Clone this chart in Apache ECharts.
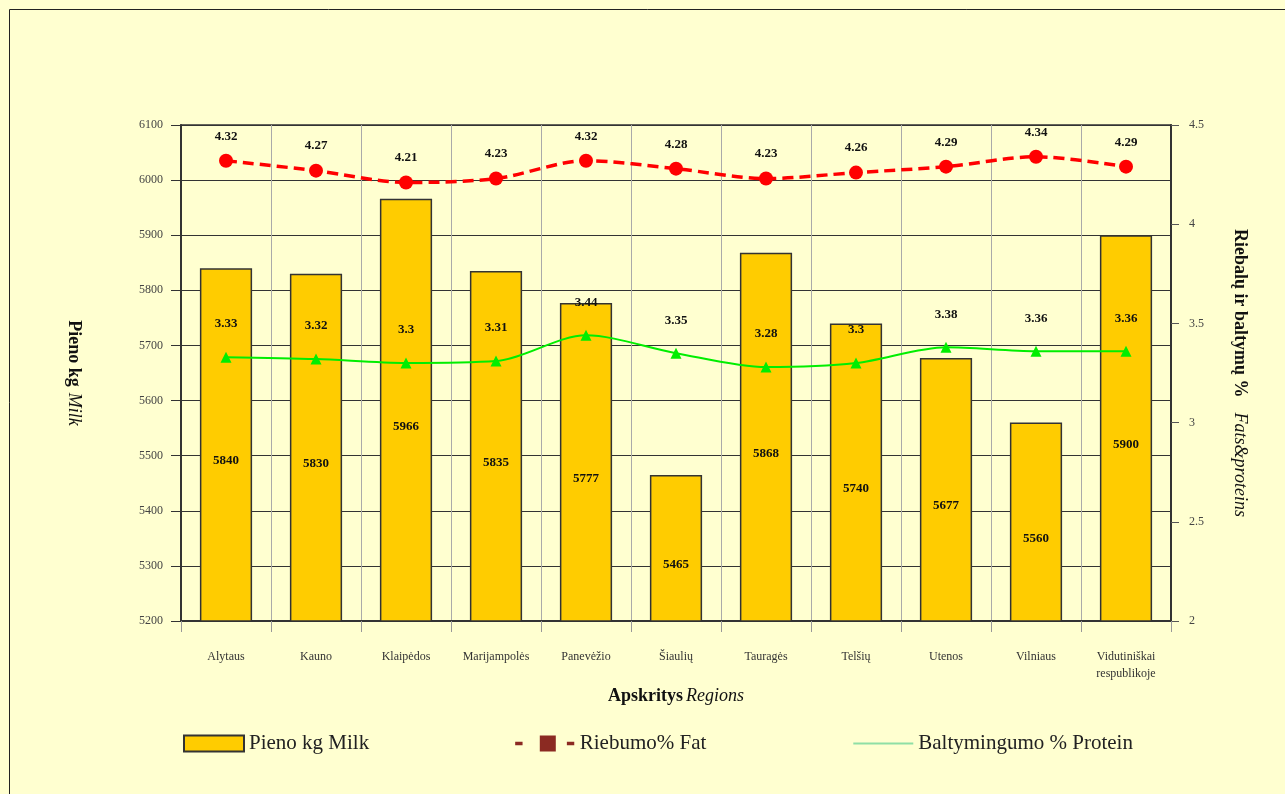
<!DOCTYPE html>
<html>
<head>
<meta charset="utf-8">
<script src="https://cdn.jsdelivr.net/npm/echarts@6/dist/echarts.min.js"></script>
<style>
html,body{margin:0;padding:0;background:#FFFFD0;}
#c{width:1285px;height:794px;}
</style>
</head>
<body>
<div id="c"></div>
<script>
const categories = ['Alytaus','Kauno','Klaipėdos','Marijampolės','Panevėžio','Šiaulių','Tauragės','Telšių','Utenos','Vilniaus','Vidutiniškai\nrespublikoje'];
const milk = [5840, 5830, 5966, 5835, 5777, 5465, 5868, 5740, 5677, 5560, 5900];
const fat = [4.32, 4.27, 4.21, 4.23, 4.32, 4.28, 4.23, 4.26, 4.29, 4.34, 4.29];
const protein = [3.33, 3.32, 3.3, 3.31, 3.44, 3.35, 3.28, 3.3, 3.38, 3.36, 3.36];
const leftTicks = {min: 5200, max: 6100, interval: 100};
const rightTicks = {min: 2, max: 4.5, interval: 0.5};

const FONT = '"Liberation Serif", "DejaVu Serif", serif';
const chart = echarts.init(document.getElementById('c'), null, {renderer: 'canvas'});
chart.setOption({
  backgroundColor: '#FFFFD0',
  textStyle: {fontFamily: FONT},
  animation: false,
  graphic: [{
    type: 'rect', shape: {x: 9.5, y: 9.5, width: 1300, height: 820},
    style: {fill: 'none', stroke: '#222', lineWidth: 1}, z: 100
  }],
  grid: {left: 181, right: 114, top: 125, bottom: 173, show: true, borderColor: '#333', borderWidth: 1.5, backgroundColor: 'transparent'},
  legend: {
    left: 178, top: 728, itemWidth: 60, itemHeight: 16, itemGap: 146,
    textStyle: {fontFamily: FONT, fontSize: 21, color: '#222'},
    data: [
      {name: 'Pieno kg Milk', icon: 'rect'},
      {name: 'Riebumo% Fat', icon: 'path://M0,7h6v3h-6z M20,2h13v13h-13z M42,7h6v3h-6z', itemStyle: {color: '#8B2A22'}},
      {name: 'Baltymingumo % Protein', itemStyle: {color: 'rgba(0,0,0,0)', borderWidth: 0}, lineStyle: {color: '#8FDFA5', width: 2, type: 'solid'}}
    ]
  },
  xAxis: {
    type: 'category', data: categories, boundaryGap: true,
    name: '{b|Apskritys} {i|Regions}', nameLocation: 'middle', nameGap: 64,
    nameTextStyle: {rich: {
      b: {fontFamily: FONT, fontSize: 18, fontWeight: 'bold', color: '#111'},
      i: {fontFamily: FONT, fontSize: 18, fontStyle: 'italic', color: '#111'}
    }},
    axisLine: {show: true, lineStyle: {color: '#333', width: 2}},
    axisTick: {show: true, length: 11, inside: false, lineStyle: {color: '#999'}},
    axisLabel: {fontFamily: FONT, fontSize: 12, color: '#333', margin: 27, lineHeight: 17, interval: 0},
    splitLine: {show: true, lineStyle: {color: '#aaa', width: 1}}
  },
  yAxis: [{
    type: 'value', min: leftTicks.min, max: leftTicks.max, interval: leftTicks.interval,
    position: 'left',
    name: '{b|Pieno kg}  {i|Milk}', nameLocation: 'middle', nameGap: 98, nameRotate: -90,
    nameTextStyle: {rich: {
      b: {fontFamily: FONT, fontSize: 18, fontWeight: 'bold', color: '#111'},
      i: {fontFamily: FONT, fontSize: 18, fontStyle: 'italic', color: '#111'}
    }},
    axisLine: {show: true, lineStyle: {color: '#333', width: 2}},
    axisTick: {show: true, length: 10, lineStyle: {color: '#333'}},
    axisLabel: {fontFamily: FONT, fontSize: 12, color: '#444', margin: 18, formatter: v => String(v)},
    splitLine: {show: true, lineStyle: {color: '#333', width: 1}}
  }, {
    type: 'value', min: rightTicks.min, max: rightTicks.max, interval: rightTicks.interval,
    position: 'right',
    name: '{b|Riebalų ir baltymų %}     {i|Fats&proteins}', nameLocation: 'middle', nameGap: 60, nameRotate: -90,
    nameTextStyle: {rich: {
      b: {fontFamily: FONT, fontSize: 18, fontWeight: 'bold', color: '#111'},
      i: {fontFamily: FONT, fontSize: 18, fontStyle: 'italic', color: '#111'}
    }},
    axisLine: {show: true, lineStyle: {color: '#333', width: 2}},
    axisTick: {show: true, length: 8, lineStyle: {color: '#555'}},
    axisLabel: {fontFamily: FONT, fontSize: 12, color: '#444', margin: 18, formatter: v => String(v)},
    splitLine: {show: false}
  }],
  series: [{
    name: 'Pieno kg Milk', type: 'bar', data: milk, yAxisIndex: 0, barWidth: '58%',
    itemStyle: {color: '#FFCC00', borderColor: '#333', borderWidth: 1.5},
    label: {show: true, position: 'inside', offset: [0, 16], fontFamily: FONT, fontSize: 13, fontWeight: 'bold', color: '#111'},
    z: 2
  }, {
    name: 'Riebumo% Fat', type: 'line', data: fat, yAxisIndex: 1, smooth: 0.3,
    symbol: 'circle', symbolSize: 14,
    itemStyle: {color: '#FF0000'},
    lineStyle: {color: '#FF0000', width: 3.5, type: [11, 6]},
    label: {show: true, position: 'top', distance: 11, fontFamily: FONT, fontSize: 13, fontWeight: 'bold', color: '#111'},
    z: 4
  }, {
    name: 'Baltymingumo % Protein', type: 'line', data: protein, yAxisIndex: 1, smooth: 0.3,
    symbol: 'triangle', symbolSize: 11,
    itemStyle: {color: '#00EE00'},
    lineStyle: {color: '#00EE00', width: 2},
    label: {show: true, position: 'top', distance: 21, fontFamily: FONT, fontSize: 13, fontWeight: 'bold', color: '#111'},
    z: 4
  }]
});
</script>
</body>
</html>
